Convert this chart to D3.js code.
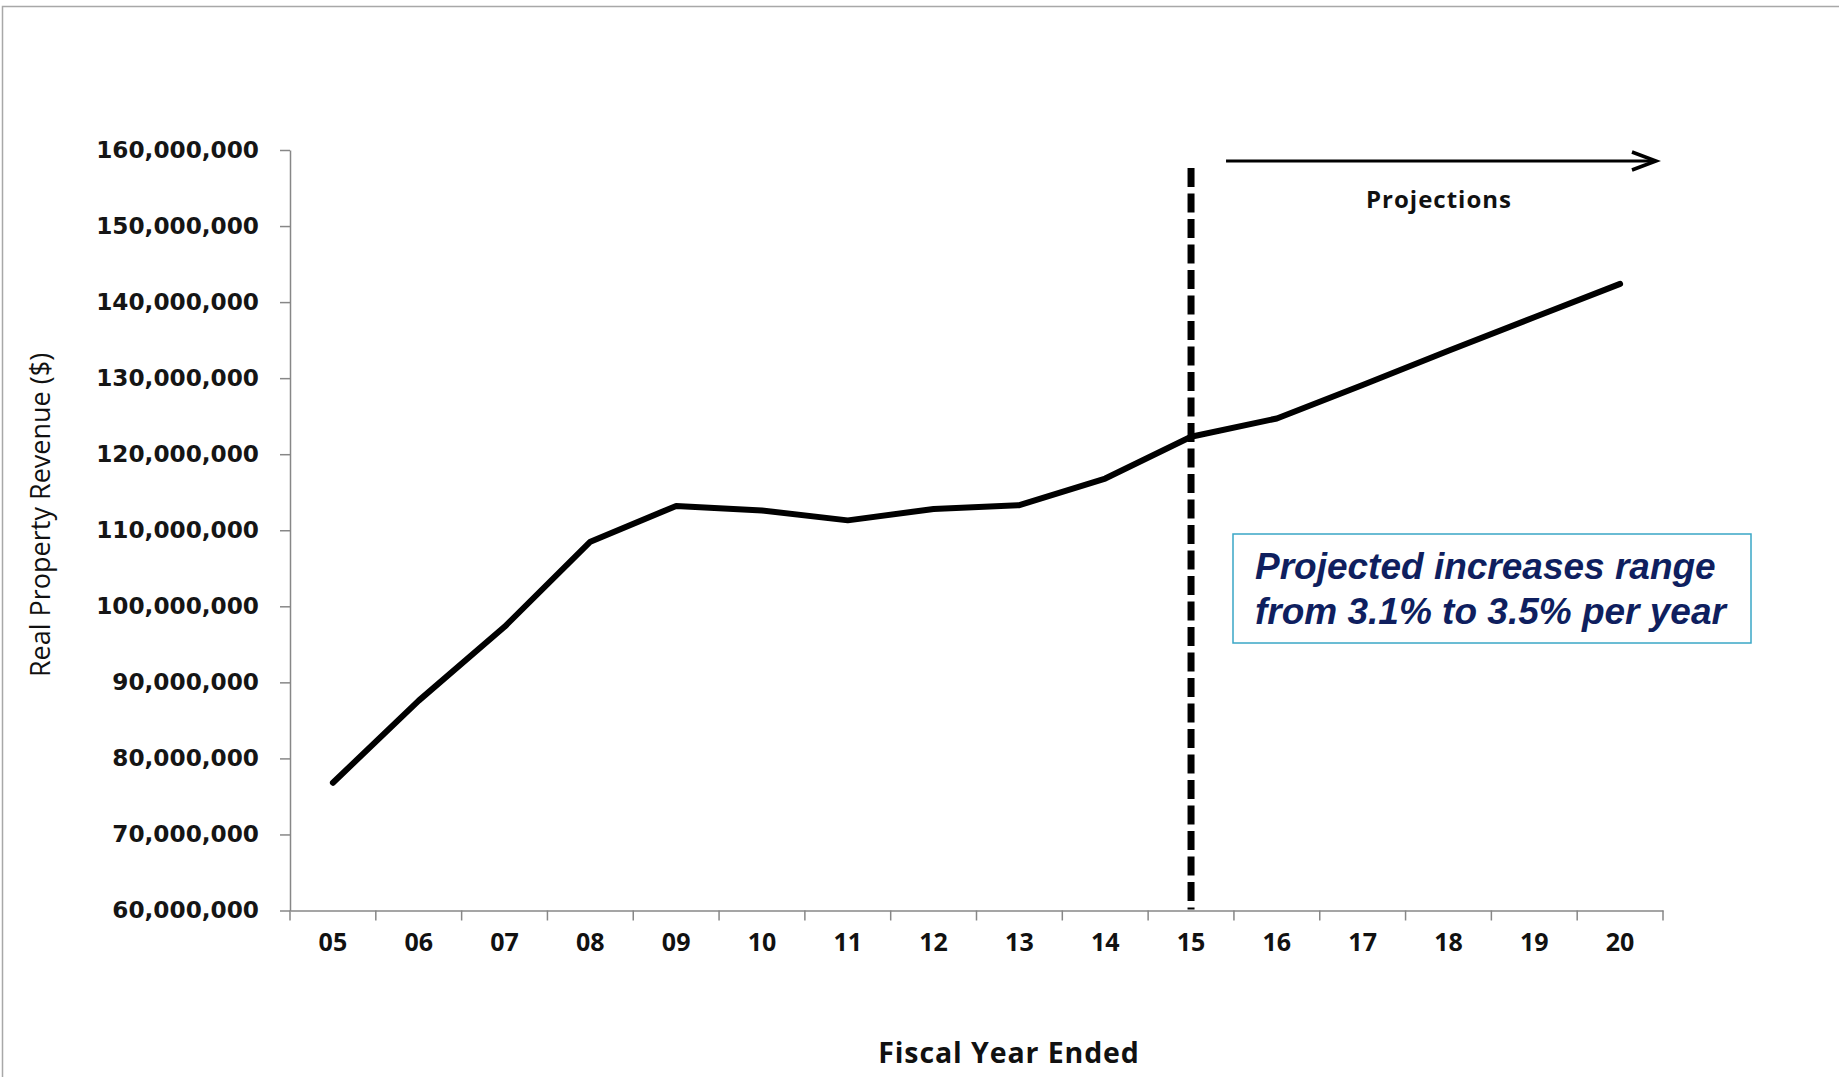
<!DOCTYPE html>
<html>
<head>
<meta charset="utf-8">
<script src="https://cdnjs.cloudflare.com/ajax/libs/d3/7.8.5/d3.min.js"></script>
<style>
  html, body { margin: 0; padding: 0; background: #fff; }
  svg { display: block; }
</style>
</head>
<body>
<svg id="chart" width="1839" height="1077"></svg>
<script>
// ---- data ----
const years = ["05","06","07","08","09","10","11","12","13","14","15","16","17","18","19","20"];
const revenue = [76.8e6, 87.6e6, 97.3e6, 108.5e6, 113.2e6, 112.6e6, 111.3e6, 112.8e6, 113.3e6, 116.8e6, 122.3e6, 124.7e6, 129.1e6, 133.6e6, 138.0e6, 142.4e6];
const yTickValues = [60e6, 70e6, 80e6, 90e6, 100e6, 110e6, 120e6, 130e6, 140e6, 150e6, 160e6];
const projectionYear = "15";
const yTitle = "Real Property Revenue ($)";
const xTitle = "Fiscal Year Ended";
const projectionLabel = "Projections";
const noteLines = ["Projected increases range", "from 3.1% to 3.5% per year"];

// ---- layout ----
const svg = d3.select("#chart");
const plotLeft = 290, plotRight = 1663, plotTop = 150, plotBottom = 910.5;

svg.append("rect").attr("x", 2.5).attr("y", 6.5).attr("width", 1900).attr("height", 1200)
  .attr("fill", "none").attr("stroke", "#a8a8a8").attr("stroke-width", 1.5);

const x = d3.scaleBand().domain(years).range([plotLeft, plotRight]).padding(0);
const y = d3.scaleLinear().domain([60e6, 160e6]).range([plotBottom, plotTop]);
const fmt = d3.format(",");

// y axis
const yAxis = svg.append("g").attr("transform", `translate(${plotLeft},0)`)
  .call(d3.axisLeft(y).tickValues(yTickValues).tickFormat(fmt).tickSize(10).tickPadding(21).tickSizeOuter(0));
yAxis.select(".domain").attr("stroke", "#878787").attr("stroke-width", 1.5);
yAxis.selectAll(".tick line").attr("stroke", "#878787").attr("stroke-width", 1.5);
yAxis.selectAll(".tick text")
  .attr("font-family", "DejaVu Sans").attr("font-weight", "bold").attr("font-size", 23.2)
  .attr("fill", "#151515");

// x axis (line + boundary ticks + labels)
const xAxis = svg.append("g").attr("transform", `translate(0,${plotBottom})`)
  .call(d3.axisBottom(x).tickSize(0).tickPadding(23).tickSizeOuter(0));
xAxis.select(".domain").attr("stroke", "#878787").attr("stroke-width", 1.5);
xAxis.selectAll(".tick text")
  .attr("font-family", "Open Sans").attr("font-weight", 700).attr("font-size", 25)
  .attr("fill", "#111");
const bounds = years.map(d => x(d)).concat([x(years[years.length - 1]) + x.bandwidth()]);
xAxis.selectAll("line.bound").data(bounds).enter().append("line")
  .attr("class", "bound")
  .attr("x1", d => d).attr("x2", d => d).attr("y1", 0).attr("y2", 10)
  .attr("stroke", "#878787").attr("stroke-width", 1.5);

// axis titles
svg.append("text")
  .attr("transform", `translate(50,515) rotate(-90)`)
  .attr("text-anchor", "middle")
  .attr("font-family", "Open Sans").attr("font-weight", 500).attr("font-size", 27)
  .attr("fill", "#111")
  .text(yTitle);
svg.append("text")
  .attr("x", 1009).attr("y", 1063)
  .attr("text-anchor", "middle")
  .attr("font-family", "Open Sans").attr("font-weight", 700).attr("font-size", 28.5)
  .attr("letter-spacing", 0.9).attr("fill", "#111")
  .text(xTitle);

// data line
const cx = d => x(d) + x.bandwidth() / 2;
const line = d3.line().x((d, i) => cx(years[i])).y(d => y(d));
svg.append("path").datum(revenue)
  .attr("d", line).attr("fill", "none")
  .attr("stroke", "#000").attr("stroke-width", 6)
  .attr("stroke-linejoin", "round").attr("stroke-linecap", "round");

// projection divider
const px = cx(projectionYear);
svg.append("line")
  .attr("x1", px).attr("x2", px).attr("y1", 168).attr("y2", plotBottom - 1)
  .attr("stroke", "#000").attr("stroke-width", 7).attr("stroke-dasharray", "19,6.5");

// projections arrow
const ay = 161, ax1 = px + 35, ax2 = 1656;
svg.append("line").attr("x1", ax1).attr("x2", ax2 - 1).attr("y1", ay).attr("y2", ay)
  .attr("stroke", "#000").attr("stroke-width", 3.2);
svg.append("path")
  .attr("d", `M${ax2 - 24},${ay - 9} L${ax2},${ay} L${ax2 - 24},${ay + 9}`)
  .attr("fill", "none").attr("stroke", "#000").attr("stroke-width", 3.5)
  .attr("stroke-linejoin", "miter");
svg.append("text")
  .attr("x", 1439).attr("y", 208).attr("text-anchor", "middle")
  .attr("font-family", "Open Sans").attr("font-weight", 700).attr("font-size", 24)
  .attr("letter-spacing", 1.0).attr("fill", "#111")
  .text(projectionLabel);

// note box
svg.append("rect").attr("x", 1233).attr("y", 534).attr("width", 518).attr("height", 109)
  .attr("fill", "#fff").attr("stroke", "#3aa7c6").attr("stroke-width", 1.5);
svg.append("g").selectAll("text").data(noteLines).enter().append("text")
  .attr("x", 1255).attr("y", (d, i) => 579 + i * 45)
  .attr("font-family", "Liberation Sans").attr("font-weight", "bold").attr("font-style", "italic")
  .attr("font-size", 37).attr("fill", "#0f1f5f")
  .text(d => d);
</script>
</body>
</html>
